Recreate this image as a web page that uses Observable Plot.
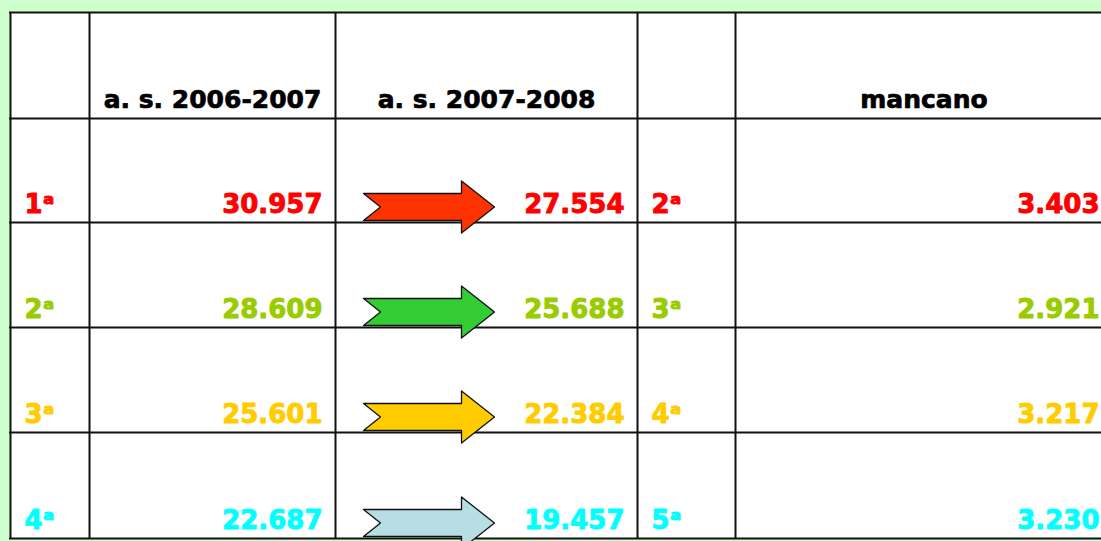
<!DOCTYPE html>
<html><head><meta charset="utf-8">
<script src="https://cdn.jsdelivr.net/npm/d3@7"></script>
<script src="https://cdn.jsdelivr.net/npm/@observablehq/plot@0.6"></script>
<style>
html,body{margin:0;padding:0;background:#ccffcc;}
#chart{width:1101px;height:541px;overflow:hidden;}
</style></head><body><div id="chart"></div>
<script>
// ---- data ----
const headers = ["", "a. s. 2006-2007", "a. s. 2007-2008", "", "mancano"];
const ranks0607 = ["1ᵃ", "2ᵃ", "3ᵃ", "4ᵃ"];
const values0607 = [30957, 28609, 25601, 22687];
const values0708 = [27554, 25688, 22384, 19457];
const ranks0708 = ["2ᵃ", "3ᵃ", "4ᵃ", "5ᵃ"];
const mancano = [3403, 2921, 3217, 3230];
const textColors = ["#ff0000", "#99cc00", "#ffcc00", "#00ffff"];
const arrowColors = ["#ff3300", "#33cc33", "#ffcc00", "#b7dee3"];

// ---- layout ----
const colEdges = [10, 89, 335, 637, 735, 1112];
const rowEdges = [12, 118, 222, 327, 432, 538];
const FONT = "DejaVu Sans, sans-serif";

const it = d3.formatLocale({decimal: ",", thousands: ".", grouping: [3], currency: ["€", ""]});
const fmt = it.format(",d");

function cellX(col, anchor) {
  if (anchor === "start") return colEdges[col] + 14;
  if (anchor === "end") return colEdges[col + 1] - 13;
  return (colEdges[col] + colEdges[col + 1]) / 2;
}

const headerCells = headers.map((h, c) => ({
  text: h, x: cellX(c, "middle"), y: rowEdges[1] - 11
})).filter(d => d.text);

const bodyCells = [];
ranks0607.forEach((r, i) => {
  const y = rowEdges[i + 2] - 10;
  const color = textColors[i];
  bodyCells.push({text: r, x: cellX(0, "start"), y, color, anchor: "start"});
  bodyCells.push({text: fmt(values0607[i]), x: cellX(1, "end"), y, color, anchor: "end"});
  bodyCells.push({text: fmt(values0708[i]), x: cellX(2, "end"), y, color, anchor: "end"});
  bodyCells.push({text: ranks0708[i], x: cellX(3, "start"), y, color, anchor: "start"});
  bodyCells.push({text: fmt(mancano[i]), x: cellX(4, "end"), y, color, anchor: "end"});
});

function arrowPts(i) {
  const cy = rowEdges[i + 2] - 15.5;
  const x0 = colEdges[2] + 28, xn = x0 + 17, xh = x0 + 98, xt = x0 + 131;
  const b = 13.5, h = 26;
  return [
    {x: x0, y: cy - b}, {x: xh, y: cy - b}, {x: xh, y: cy - h}, {x: xt, y: cy},
    {x: xh, y: cy + h}, {x: xh, y: cy + b}, {x: x0, y: cy + b}, {x: xn, y: cy}
  ];
}

const lineColor = "#111";
const bodyText = {x: "x", y: "y", text: "text", lineAnchor: "bottom", fill: "color", stroke: "color", strokeWidth: 0.9, paintOrder: "fill", fontSize: 26, fontWeight: "bold", fontFamily: FONT};
const marks = [
  Plot.rect([0], {x1: () => colEdges[0], x2: () => colEdges[5], y1: () => rowEdges[0], y2: () => rowEdges[5], fill: "white"}),
  Plot.ruleX(colEdges, {x: d => d, y1: () => rowEdges[0], y2: () => rowEdges[5], stroke: lineColor, strokeWidth: 2}),
  Plot.ruleY(rowEdges, {y: d => d, x1: () => colEdges[0] - 1, x2: () => colEdges[5], stroke: lineColor, strokeWidth: 2}),
  ...ranks0607.map((_, i) => Plot.line(arrowPts(i), {x: "x", y: "y", curve: "linear-closed", fill: arrowColors[i], stroke: lineColor, strokeWidth: 1.3})),
  Plot.text(headerCells, {x: "x", y: "y", text: "text", textAnchor: "middle", lineAnchor: "bottom", fill: "black", stroke: "black", strokeWidth: 0.7, paintOrder: "fill", fontSize: 25, fontWeight: "bold", fontFamily: FONT}),
  Plot.text(bodyCells.filter(d => d.anchor === "start"), {...bodyText, textAnchor: "start"}),
  Plot.text(bodyCells.filter(d => d.anchor === "end"), {...bodyText, textAnchor: "end"})
];

const chart = Plot.plot({
  width: 1101, height: 541, margin: 0,
  x: {type: "linear", domain: [0, 1101], range: [0, 1101], axis: null},
  y: {type: "linear", domain: [0, 541], range: [0, 541], axis: null},
  color: {type: "identity"},
  style: {background: "transparent", overflow: "hidden"},
  marks
});
document.getElementById("chart").appendChild(chart);
</script></body></html>
